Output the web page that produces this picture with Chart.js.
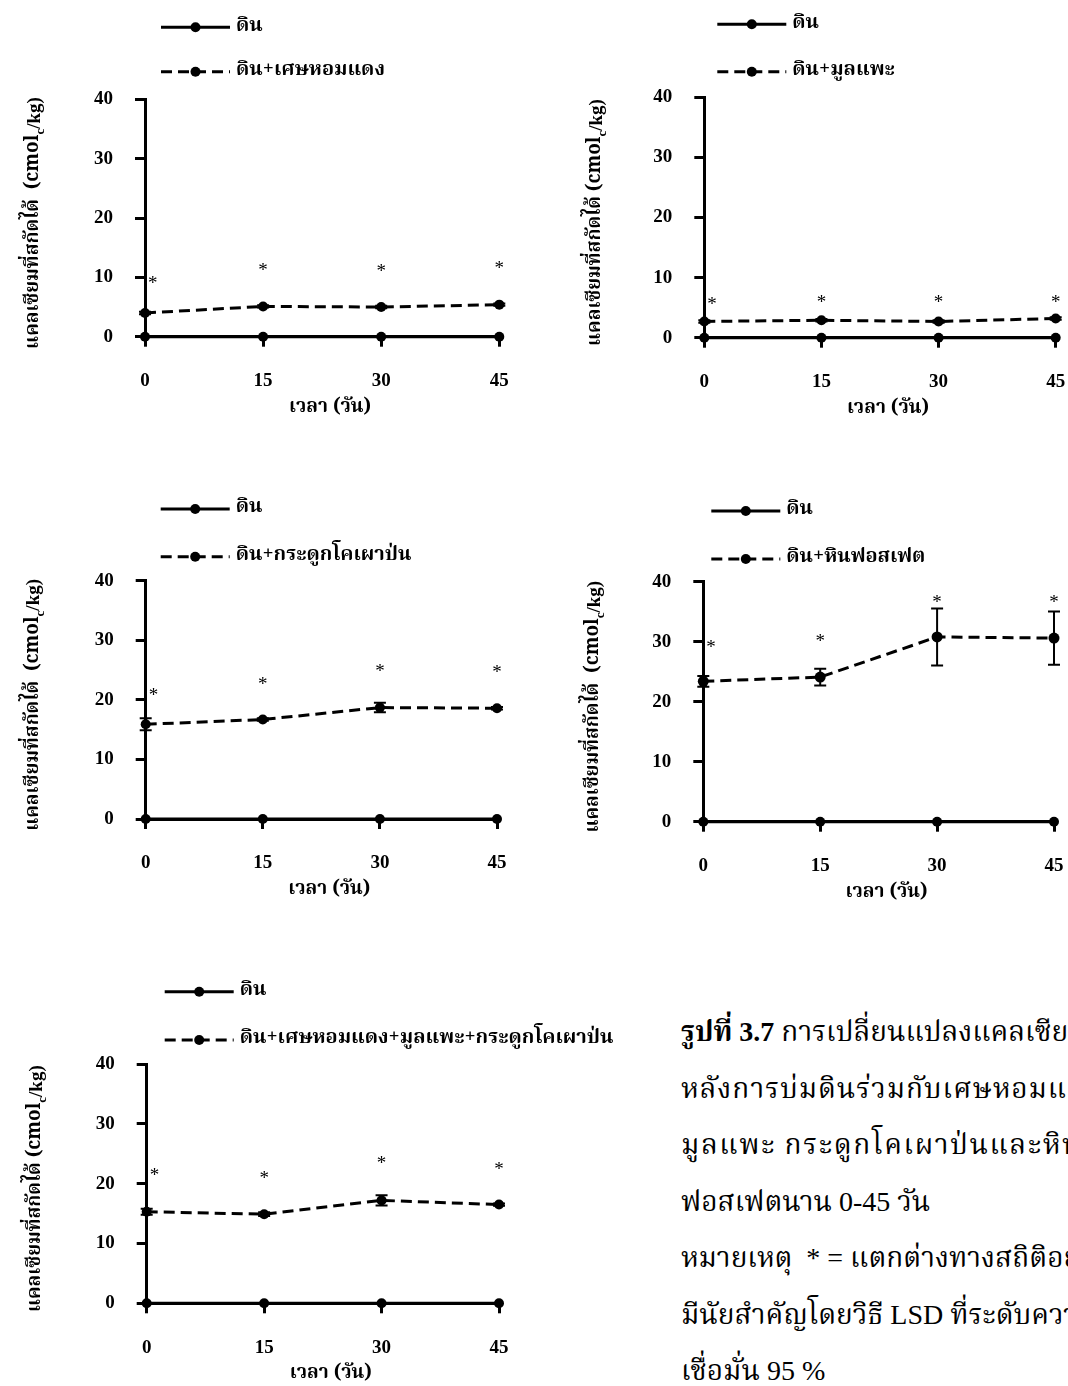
<!DOCTYPE html>
<html lang="th">
<head>
<meta charset="utf-8">
<script src="https://cdn.jsdelivr.net/npm/chart.js@4.4.1/dist/chart.umd.min.js"></script>
<style>
  html, body { margin: 0; padding: 0; background: #fff; }
  #page { position: relative; width: 1068px; height: 1386px; overflow: hidden; background: #fff; }
  canvas { position: absolute; }
  #caption {
    position: absolute; left: 681px; top: 1004px; width: 600px;
    font-family: "Liberation Serif", "Noto Serif Thai", serif;
    font-size: 28px; line-height: 56.5px; color: #000; white-space: nowrap;
  }
  #caption b { font-weight: bold; }
  #caption .wide { letter-spacing: 1px; }
  #caption .wider { letter-spacing: 1.6px; }
</style>
</head>
<body>
<div id="page">
  <canvas id="c1"></canvas>
  <canvas id="c2"></canvas>
  <canvas id="c3"></canvas>
  <canvas id="c4"></canvas>
  <canvas id="c5"></canvas>
  <div id="caption">
    <div><b>รูปที่ 3.7</b> การเปลี่ยนแปลงแคลเซียมที่สกัดได้</div>
    <div class="wide">หลังการบ่มดินร่วมกับเศษหอมแดง</div>
    <div class="wider">มูลแพะ กระดูกโคเผาป่นและหิน</div>
    <div>ฟอสเฟตนาน 0-45 วัน</div>
    <div>หมายเหตุ&nbsp; * = แตกต่างทางสถิติอย่าง</div>
    <div>มีนัยสำคัญโดยวิธี LSD ที่ระดับความ</div>
    <div>เชื่อมั่น 95 %</div>
  </div>
</div>
<script>
// Incubation time (days)
const days = [0, 15, 30, 45];
// x positions of the significance asterisks (the day-0 mark sits just right of the axis)
const starDays = [1, 15, 30, 45];

// Extractable calcium (cmolc/kg)
const soilOnly = [0, 0, 0, 0];

const shallotMean = [4.0, 5.1, 5.0, 5.4];
const shallotErr = [0.2, 0.2, 0.2, 0.2];
const shallotStar = [9.3, 11.6, 11.4, 11.9];

const goatMean = [2.7, 2.9, 2.7, 3.2];
const goatErr = [0.2, 0.2, 0.2, 0.2];
const goatStar = [6.0, 6.3, 6.3, 6.3];

const boneMean = [15.9, 16.7, 18.7, 18.6];
const boneErr = [1.0, 0.2, 0.8, 0.2];
const boneStar = [21.1, 23.0, 25.2, 25.0];

const rockMean = [23.4, 24.1, 30.8, 30.6];
const rockErr = [0.9, 1.4, 4.75, 4.45];
const rockStar = [29.4, 30.4, 37.0, 36.9];

const mixMean = [15.3, 14.9, 17.2, 16.5];
const mixErr = [0.5, 0.3, 0.85, 0.2];
const mixStar = [21.8, 21.3, 23.7, 22.8];

const soilLabel = 'ดิน';
const treatmentLabels = [
  'ดิน+เศษหอมแดง',
  'ดิน+มูลแพะ',
  'ดิน+กระดูกโคเผาป่น',
  'ดิน+หินฟอสเฟต',
  'ดิน+เศษหอมแดง+มูลแพะ+กระดูกโคเผาป่น'
];
const yTicks = [0, 10, 20, 30, 40];
const xTitle = 'เวลา (วัน)';

const SERIF = '"Liberation Serif", "Noto Serif Thai", serif';
const THAI = '"Noto Serif Thai", "Liberation Serif", serif';
const THAI_SIZE = 19;
const LEGEND_SIZE = 20;

// Draws the stacked legend, axis titles, error bars and asterisks
const decorations = {
  id: 'decorations',
  beforeDatasetsDraw(chart, args, o) {
    const ctx = chart.ctx, xs = chart.scales.x, ys = chart.scales.y;
    const vals = chart.data.datasets[1].data;
    ctx.save();
    ctx.strokeStyle = '#000';
    ctx.lineWidth = 2;
    o.err.forEach((e, i) => {
      if (!e) return;
      const x = xs.getPixelForValue(vals[i].x);
      const yTop = ys.getPixelForValue(vals[i].y + e);
      const yBot = ys.getPixelForValue(vals[i].y - e);
      ctx.beginPath();
      ctx.moveTo(x, yTop); ctx.lineTo(x, yBot);
      ctx.moveTo(x - 6, yTop); ctx.lineTo(x + 6, yTop);
      ctx.moveTo(x - 6, yBot); ctx.lineTo(x + 6, yBot);
      ctx.stroke();
    });
    ctx.restore();
  },
  afterDraw(chart, args, o) {
    const ctx = chart.ctx, xs = chart.scales.x, ys = chart.scales.y;
    const a = chart.chartArea;
    ctx.save();
    ctx.fillStyle = '#000';

    // asterisks
    ctx.font = '19px ' + SERIF;
    ctx.textAlign = 'center';
    ctx.textBaseline = 'middle';
    o.stars.forEach((v, i) => {
      ctx.fillText('*', xs.getPixelForValue(o.starDays[i]), ys.getPixelForValue(v) + 3);
    });

    // stacked legend
    chart.data.datasets.forEach((ds, i) => {
      const y = a.top + o.legendY[i];
      const x0 = a.left + o.legendX, x1 = x0 + 69;
      ctx.save();
      ctx.strokeStyle = '#000';
      ctx.lineWidth = 3;
      ctx.setLineDash(ds.borderDash || []);
      ctx.beginPath(); ctx.moveTo(x0, y); ctx.lineTo(x1, y); ctx.stroke();
      ctx.setLineDash([]);
      ctx.beginPath(); ctx.arc((x0 + x1) / 2, y, 5, 0, Math.PI * 2); ctx.fill();
      ctx.restore();
      ctx.font = 'bold ' + LEGEND_SIZE + 'px ' + THAI;
      ctx.textAlign = 'left';
      ctx.textBaseline = 'middle';
      ctx.fillText(ds.label, x1 + 6, y);
    });

    // x title
    ctx.font = 'bold ' + THAI_SIZE + 'px ' + THAI;
    ctx.textAlign = 'center';
    ctx.textBaseline = 'middle';
    ctx.fillText(xTitle, (a.left + a.right) / 2 + 8, a.bottom + 72);

    // y title with subscript c
    const parts = [
      ['แคลเซียมที่สกัดได้' + o.gap + '(cmol', 'bold ' + THAI_SIZE + 'px ' + THAI, 0],
      ['c', 'bold 13px ' + SERIF, 6],
      ['/kg)', 'bold ' + THAI_SIZE + 'px ' + SERIF, 0]
    ];
    let total = 0;
    parts.forEach(p => { ctx.font = p[1]; p.push(ctx.measureText(p[0]).width); total += p[3]; });
    ctx.translate(a.left + o.yTitleX, (a.top + a.bottom) / 2 + 5);
    ctx.rotate(-Math.PI / 2);
    ctx.textAlign = 'left';
    ctx.textBaseline = 'middle';
    let cx = -total / 2;
    parts.forEach(p => { ctx.font = p[1]; ctx.fillText(p[0], cx, p[2]); cx += p[3]; });
    ctx.restore();
  }
};

function pts(vals) { return days.map((d, i) => ({ x: d, y: vals[i] })); }

function makeChart(id, box, area, treatment, label, err, stars, extra) {
  const cv = document.getElementById(id);
  cv.width = box[2]; cv.height = box[3];
  cv.style.left = box[0] + 'px'; cv.style.top = box[1] + 'px';
  const yW = area[0] - box[0];
  const xH = box[1] + box[3] - area[3];
  const axisFont = { family: SERIF, size: 19, weight: 'bold' };
  new Chart(cv, {
    type: 'line',
    data: {
      datasets: [
        { label: soilLabel, data: pts(soilOnly), borderColor: '#000', backgroundColor: '#000',
          borderWidth: 3, pointRadius: 5, pointBackgroundColor: '#000', pointBorderWidth: 0, clip: false },
        { label: label, data: pts(treatment), borderColor: '#000', backgroundColor: '#000',
          borderWidth: 3, borderDash: [11, 6], pointRadius: extra.r || 5, pointBackgroundColor: '#000',
          pointBorderWidth: 0, clip: false }
      ]
    },
    options: {
      responsive: false,
      animation: false,
      events: [],
      layout: { padding: { left: 0, top: area[1] - box[1], right: box[0] + box[2] - area[2], bottom: 0 } },
      plugins: {
        legend: { display: false },
        tooltip: { enabled: false },
        decorations: {
          err: err, stars: stars, starDays: starDays,
          legendX: extra.legendX, legendY: extra.legendY,
          yTitleX: extra.yTitleX, gap: extra.gap
        }
      },
      scales: {
        x: {
          type: 'linear', min: 0, max: 45,
          afterFit: s => { s.height = xH; },
          border: { color: '#000', width: 3 },
          grid: { drawOnChartArea: false, drawTicks: true, tickLength: 10, color: '#000', lineWidth: 3 },
          ticks: { stepSize: 15, color: '#000', font: axisFont, padding: 23, maxRotation: 0 }
        },
        y: {
          min: 0, max: 40,
          afterFit: s => { s.width = yW; },
          afterBuildTicks: s => { s.ticks = yTicks.map(v => ({ value: v })); },
          border: { color: '#000', width: 3 },
          grid: { drawOnChartArea: false, drawTicks: true, tickLength: 10, color: '#000', lineWidth: 3 },
          ticks: { color: '#000', font: axisFont, padding: 22 }
        }
      }
    },
    plugins: [decorations]
  });
}

makeChart('c1', [0, 0, 540, 470], [145, 99.3, 499.3, 336.7], shallotMean, treatmentLabels[0], shallotErr, shallotStar,
  { legendX: 16, legendY: [-72, -27.6], yTitleX: -110.4, gap: '  ' });
makeChart('c2', [540, 0, 560, 470], [704.3, 97.3, 1055.7, 337.7], goatMean, treatmentLabels[1], goatErr, goatStar,
  { legendX: 13, legendY: [-73, -25.6], yTitleX: -107.3, gap: ' ' });
makeChart('c3', [0, 470, 540, 480], [145.7, 580.7, 497, 819], boneMean, treatmentLabels[2], boneErr, boneStar,
  { legendX: 15, legendY: [-71.7, -24], yTitleX: -111.2, gap: '  ' });
makeChart('c4', [540, 470, 560, 480], [703.3, 581.7, 1054, 821.7], rockMean, treatmentLabels[3], rockErr, rockStar,
  { legendX: 8, legendY: [-70.7, -22.7], yTitleX: -108.3, gap: '  ', r: 5.5 });
makeChart('c5', [0, 950, 620, 436], [146.7, 1064, 499, 1303.3], mixMean, treatmentLabels[4], mixErr, mixStar,
  { legendX: 18, legendY: [-72.3, -24], yTitleX: -109.7, gap: ' ' });
</script>
</body>
</html>
